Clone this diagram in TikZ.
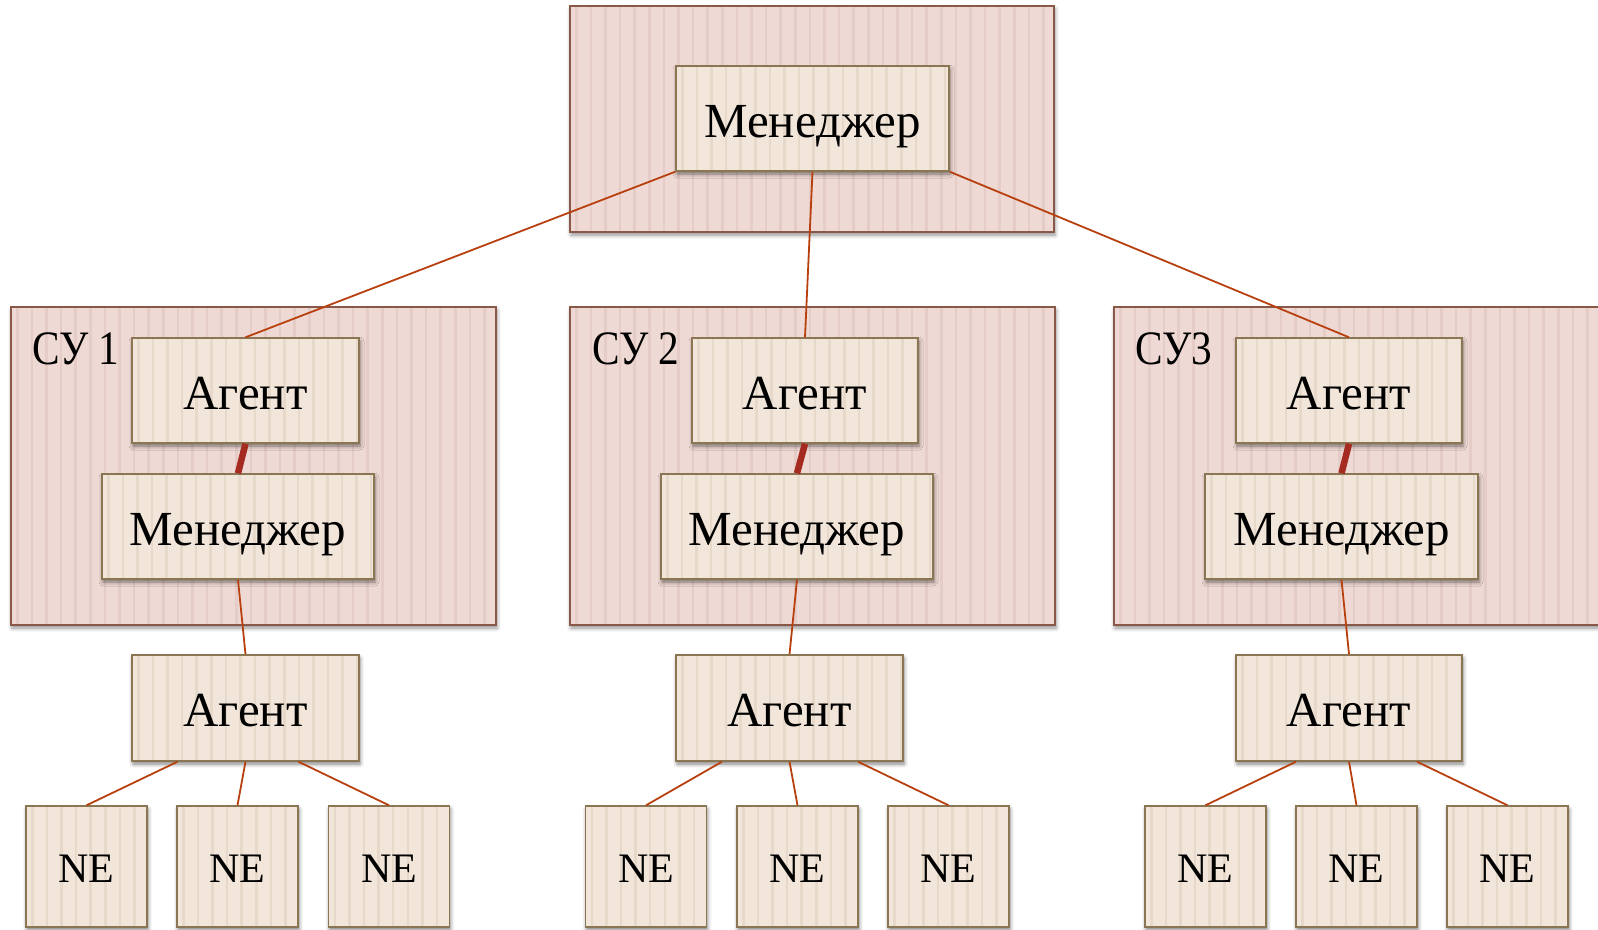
\documentclass[tikz,border=0pt]{standalone}
\usepackage{graphicx}
\usepackage{fontspec}
\setmainfont{Liberation Serif}
\usetikzlibrary{shadows.blur,calc}
\definecolor{contfill}{HTML}{EFD9D4}
\definecolor{contstripe}{HTML}{E5CCC6}
\definecolor{contborder}{HTML}{8A5848}
\definecolor{boxfill}{HTML}{F2E6DA}
\definecolor{boxstripe}{HTML}{E6D9CA}
\definecolor{boxborder}{HTML}{8B7653}
\definecolor{linkcol}{HTML}{B8400F}
\definecolor{thickcol}{HTML}{A52A20}
\tikzset{
  stripes/.style={path picture={
    \foreach \k in {0,...,34}{
      \fill[#1] ($(path picture bounding box.north west)+(\k*14.6+5,0)$) rectangle ($(path picture bounding box.south west)+(\k*14.6+7.5,0)$);
    }}},
  container/.style={draw=contborder, line width=1.6pt, fill=contfill, stripes=contstripe, inner sep=0pt,
    blur shadow={shadow xshift=1pt, shadow yshift=-3pt, shadow blur radius=4pt, shadow opacity=45}},
  box/.style={draw=boxborder, line width=1.4pt, fill=boxfill, stripes=boxstripe, inner sep=0pt,
    font=\fontsize{49}{56}\selectfont, text height=37pt, text depth=0pt,
    blur shadow={shadow xshift=1pt, shadow yshift=-3pt, shadow blur radius=4pt, shadow opacity=50}},
  nebox/.style={box, minimum width=121pt, minimum height=121pt,
    font=\fontsize{42}{50}\selectfont, text height=31pt},
  sulabel/.style={anchor=base west, inner sep=0pt, font=\fontsize{48}{56}\selectfont},
  link/.style={draw=linkcol, line width=1.8pt},
  thicklink/.style={draw=thickcol, line width=6.5pt},
}
\begin{document}
\begin{tikzpicture}[x=1pt,y=-1pt]
\useasboundingbox (0,0) rectangle (1598,929);
\node[container, minimum width=484pt, minimum height=226pt] (Ctop) at (812,119) {};
\node[container, minimum width=485pt, minimum height=318pt] (C1) at (253.5,466) {};
\node[container, minimum width=485pt, minimum height=318pt] (C2) at (812.5,466) {};
\node[container, minimum width=485pt, minimum height=318pt] (C3) at (1356.5,466) {};
\node[sulabel] (L1) at (32,364) {\scalebox{0.86}[1]{СУ 1}};
\node[sulabel] (L2) at (592,364) {\scalebox{0.86}[1]{СУ 2}};
\node[sulabel] (L3) at (1135,364) {\scalebox{0.86}[1]{СУ3}};
% top manager
\node[box, minimum width=273pt, minimum height=105pt] (M) at (812.5,118.5) {Менеджер};
% agents in systems
\node[box, minimum width=227pt, minimum height=105pt] (A1) at (245.5,390.5) {Агент};
\node[box, minimum width=226pt, minimum height=105pt] (A2) at (805,390.5) {Агент};
\node[box, minimum width=226pt, minimum height=105pt] (A3) at (1349,390.5) {Агент};
% managers in systems
\node[box, minimum width=272pt, minimum height=105pt] (M1) at (238,526.5) {Менеджер};
\node[box, minimum width=272pt, minimum height=105pt] (M2) at (797,526.5) {Менеджер};
\node[box, minimum width=273pt, minimum height=105pt] (M3) at (1341.5,526.5) {Менеджер};
% lower agents
\node[box, minimum width=227pt, minimum height=106pt] (B1) at (245.5,708) {Агент};
\node[box, minimum width=227pt, minimum height=106pt] (B2) at (789.5,708) {Агент};
\node[box, minimum width=226pt, minimum height=106pt] (B3) at (1349,708) {Агент};
% NE
\node[nebox] (N11) at (86.5,866.5) {NE};
\node[nebox] (N12) at (237.5,866.5) {NE};
\node[nebox] (N13) at (389,866.5) {NE};
\node[nebox] (N21) at (646,866.5) {NE};
\node[nebox] (N22) at (797.5,866.5) {NE};
\node[nebox] (N23) at (948.5,866.5) {NE};
\node[nebox] (N31) at (1205.5,866.5) {NE};
\node[nebox] (N32) at (1356.5,866.5) {NE};
\node[nebox] (N33) at (1507.5,866.5) {NE};
% connectors
\draw[link] (M.south west) -- (A1.north);
\draw[link] (M.south) -- (A2.north);
\draw[link] (M.south east) -- (A3.north);
\draw[thicklink] (A1.south) -- (M1.north);
\draw[thicklink] (A2.south) -- (M2.north);
\draw[thicklink] (A3.south) -- (M3.north);
\draw[link] (M1.south) -- (B1.north);
\draw[link] (M2.south) -- (B2.north);
\draw[link] (M3.south) -- (B3.north);
\draw[link] ($(B1.south)+(-68,0)$) -- (N11.north);
\draw[link] (B1.south) -- (N12.north);
\draw[link] ($(B1.south)+(53,0)$) -- (N13.north);
\draw[link] ($(B2.south)+(-67.5,0)$) -- (N21.north);
\draw[link] (B2.south) -- (N22.north);
\draw[link] ($(B2.south)+(68.5,0)$) -- (N23.north);
\draw[link] ($(B3.south)+(-53,0)$) -- (N31.north);
\draw[link] (B3.south) -- (N32.north);
\draw[link] ($(B3.south)+(68,0)$) -- (N33.north);
\end{tikzpicture}
\end{document}
